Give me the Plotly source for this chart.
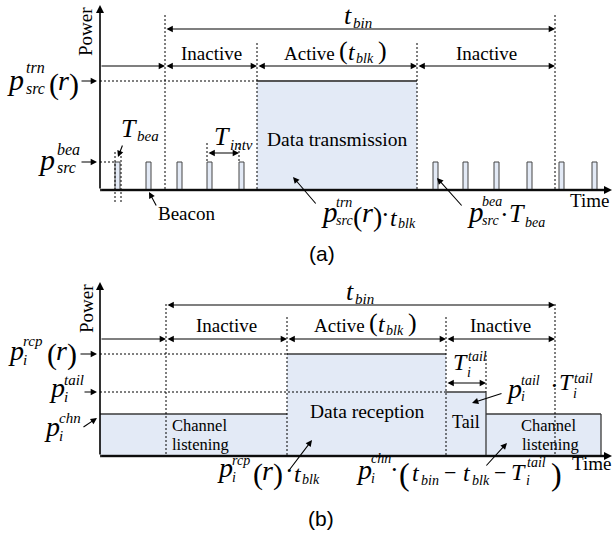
import plotly.graph_objects as go

SERIF = "Liberation Serif"
SANS = "Liberation Sans"
FILL = "#E3EAF6"
EDGE = "#3a3a3a"

# ---------------- Panel (a): source node (beacons + data transmission) ----------------
a_origin = 100                       # time origin of panel (a)
a_zero = 190                         # zero-power level
a_top = 5                            # top of power axis
a_edges = [165, 257, 417, 555]       # t_bin start, active start, active end, t_bin end
a_phases = ["Inactive", "Active", "Inactive"]
a_p_trn = 81                         # p_src^trn(r) level
a_p_bea = 162                        # p_src^bea level
a_beacons = [115, 146, 177, 207, 239, 433, 463, 494, 527, 559, 592]   # beacon start times
a_beacon_len = 5                     # T_bea
a_tbin_y = 29
a_phase_y = 66

# ---------------- Panel (b): receiving node ----------------
b_origin = 100
b_zero = 456
b_top = 282
b_edges = [166, 287, 446, 555]       # t_bin start, active start, active end, t_bin end
b_phases = ["Inactive", "Active", "Inactive"]
b_tail_end = 486                     # end of tail period
b_listen_end = 601                   # end of channel listening block
b_p_rcp = 354                        # p_i^rcp(r)
b_p_tail = 392                       # p_i^tail
b_p_chn = 414                        # p_i^chn
b_tbin_y = 305
b_phase_y = 339

fig = go.Figure()
anns = []


def poly(xs, ys, color="black", width=1.0, dash="solid", fill=None):
    fig.add_trace(go.Scatter(
        x=xs, y=ys, mode="lines", hoverinfo="skip", showlegend=False,
        line=dict(color=color, width=width, dash=dash),
        fill="toself" if fill else None, fillcolor=fill))


def block(x0, x1, y0, y1, edge=None, ew=1.0):
    poly([x0, x1, x1, x0, x0], [y0, y0, y1, y1, y0],
         color=edge if edge else "rgba(0,0,0,0)", width=ew if edge else 0, fill=FILL)


def dotted(x0, y0, x1, y1):
    poly([x0, x1], [y0, y1], color="black", width=1, dash="2px,2px")


def solid(x0, y0, x1, y1, color=EDGE, width=1.3):
    poly([x0, x1], [y0, y1], color=color, width=width)


def arrow(x0, y0, x1, y1, both=False, width=1.1, size=1.15):
    anns.append(dict(x=x1, y=y1, ax=x0, ay=y0, xref="x", yref="y", axref="x", ayref="y",
                     text="", showarrow=True, arrowhead=2, startarrowhead=2,
                     arrowside="end+start" if both else "end",
                     arrowsize=size, startarrowsize=size, arrowwidth=width,
                     arrowcolor="black", standoff=0, startstandoff=0))


def text(x, yb, s, size=19, anchor="left", family=SERIF, italic=False, angle=0, yc=None):
    if italic:
        s = "<i>" + s + "</i>"
    y = yc if yc is not None else yb - 0.34 * size
    anns.append(dict(x=x, y=y, xref="x", yref="y", text=s, showarrow=False,
                     font=dict(family=family, size=size, color="black"),
                     xanchor=anchor, yanchor="middle", textangle=angle, borderpad=0))


def stacked(x, yb, base, sup=None, sub=None, bs=28, ss=14, bw=15, sup_dy=-15, sub_dy=4):
    text(x, yb, base, bs, italic=True)
    if sup:
        text(x + bw, yb + sup_dy, sup, ss, italic=True)
    if sub:
        text(x + bw, yb + sub_dy, sub, ss, italic=True)


def paren_r(x, yb, ps=28, rs=28):
    text(x, yb + 4, "(", ps)
    text(x + 9, yb, "r", rs, italic=True)
    text(x + 20, yb + 4, ")", ps)


def active_label(c, yb):
    text(c - 54, yb, "Active", 19)
    text(c + 1, yb - 1, "(", 26)
    text(c + 10, yb, "t", 24, italic=True)
    text(c + 18, yb + 3, "blk", 14, italic=True)
    text(c + 40, yb - 1, ")", 26)


# ======================= PANEL (a) =======================
block(a_edges[1], a_edges[2], a_p_trn, a_zero)
solid(a_edges[1], a_p_trn, a_edges[2], a_p_trn, color="#555555", width=2)
for b in a_beacons:
    block(b, b + a_beacon_len, a_p_bea, a_zero, edge="#444444", ew=1)
dotted(a_edges[0], 15, a_edges[0], a_zero)
dotted(a_edges[1], 43, a_edges[1], a_zero)
dotted(a_edges[2], 43, a_edges[2], a_zero)
dotted(a_edges[3], 15, a_edges[3], a_zero)
dotted(a_origin, a_p_trn, a_edges[1], a_p_trn)
dotted(a_origin, a_p_bea, a_beacons[0], a_p_bea)
dotted(a_beacons[0], 152, a_beacons[0], 204)
dotted(a_beacons[0] + a_beacon_len + 1, 152, a_beacons[0] + a_beacon_len + 1, 204)
dotted(a_beacons[3], 143, a_beacons[3], a_p_bea)
dotted(a_beacons[4], 143, a_beacons[4], a_p_bea)
solid(a_origin, a_zero, 604, a_zero, color="#333333", width=2.4)
arrow(a_origin, a_zero, 612, a_zero, width=1.6, size=1.0)
arrow(a_origin, a_zero, a_origin, a_top, width=1.6, size=1.0)
arrow(a_edges[0], a_tbin_y, a_edges[3], a_tbin_y, both=True)
arrow(a_origin, a_phase_y, a_edges[0], a_phase_y)
for i in range(3):
    arrow(a_edges[i], a_phase_y, a_edges[i + 1], a_phase_y, both=True)
arrow(a_beacons[3], 153, a_beacons[4], 153, both=True)
arrow(80, a_p_trn, 97, a_p_trn)
arrow(80, a_p_bea, 97, a_p_bea)
arrow(123, 144, 118, 157)
arrow(157, 207, 149, 192)
arrow(317, 205, 293, 177)
arrow(463, 207, 437, 178)

text(85, 0, "Power", 19, anchor="center", angle=-90, yc=32)
text(343, 24, "t", 26, italic=True)
text(352, 28, "bin", 15, italic=True)
text((a_edges[0] + a_edges[1]) / 2, 60, a_phases[0], 19, anchor="center")
active_label((a_edges[1] + a_edges[2]) / 2, 60)
text((a_edges[2] + a_edges[3]) / 2, 60, a_phases[2], 19, anchor="center")
text((a_edges[1] + a_edges[2]) / 2, 146, "Data transmission", 19.5, anchor="center")
text(157, 220, "Beacon", 19)
stacked(6, 90, "p", "trn", "src", bs=30, ss=16, bw=19, sup_dy=-17, sub_dy=4)
paren_r(48, 90, ps=30, rs=28)
stacked(37, 170, "p", "bea", "src", bs=30, ss=16, bw=19, sup_dy=-15, sub_dy=3)
text(120, 137, "T", 26, italic=True)
text(136, 141, "bea", 15, italic=True)
text(213, 145, "T", 26, italic=True)
text(229, 150, "intv", 15, italic=True)
stacked(320, 222, "p", "trn", "src", bs=29, ss=14, bw=15, sup_dy=-15, sub_dy=3)
paren_r(352, 222, ps=28, rs=28)
text(385, 223, "·", 26, anchor="center")
text(389, 226, "t", 24, italic=True)
text(397, 228, "blk", 14, italic=True)
stacked(466, 222, "p", "bea", "src", bs=29, ss=14, bw=15, sup_dy=-16, sub_dy=3)
text(504, 223, "·", 26, anchor="center")
text(508, 222, "T", 26, italic=True)
text(524, 227, "bea", 14, italic=True)
text(569, 207, "Time", 19)
text(322, 0, "(a)", 21, anchor="center", family=SANS, yc=253)

# ======================= PANEL (b) =======================
block(b_origin, b_edges[1], b_p_chn, b_zero)
block(b_edges[1], b_edges[2], b_p_rcp, b_zero)
block(b_edges[2], b_tail_end, b_p_tail, b_zero)
block(b_tail_end, b_listen_end, b_p_chn, b_zero)
solid(b_origin, b_p_chn, b_edges[1], b_p_chn)
solid(b_edges[1], b_p_rcp, b_edges[2], b_p_rcp)
solid(b_edges[2], b_p_tail, b_tail_end, b_p_tail)
solid(b_tail_end, b_p_chn, b_listen_end, b_p_chn)
solid(b_tail_end, b_p_tail, b_tail_end, b_zero)
solid(b_listen_end, b_p_chn, b_listen_end, b_zero)
dotted(b_edges[0], 304, b_edges[0], b_zero)
dotted(b_edges[1], 317, b_edges[1], b_zero)
dotted(b_edges[2], 317, b_edges[2], b_zero)
dotted(b_edges[3], 304, b_edges[3], b_zero)
dotted(b_tail_end, 355, b_tail_end, b_p_tail)
dotted(b_origin, b_p_rcp, b_edges[1], b_p_rcp)
dotted(b_origin, b_p_tail, b_edges[2], b_p_tail)
solid(b_origin, b_zero, 604, b_zero, color="#333333", width=2.4)
arrow(b_origin, b_zero, 612, b_zero, width=1.6, size=1.0)
arrow(b_origin, b_zero, b_origin, b_top, width=1.6, size=1.0)
arrow(b_edges[0], b_tbin_y, b_edges[3], b_tbin_y, both=True)
arrow(b_origin, b_phase_y, b_edges[0], b_phase_y)
for i in range(3):
    arrow(b_edges[i], b_phase_y, b_edges[i + 1], b_phase_y, both=True)
arrow(b_edges[2], 383, b_tail_end, 383, both=True)
arrow(79, b_p_rcp, 97, b_p_rcp)
arrow(83, b_p_tail, 97, b_p_tail)
arrow(82, 428, 97, 418)
arrow(503, 393, 472, 403)
arrow(287, 473, 312, 440)
arrow(485, 467, 507, 443)

text(86, 0, "Power", 19, anchor="center", angle=-90, yc=309)
text(345, 300, "t", 26, italic=True)
text(354, 304, "bin", 15, italic=True)
text((b_edges[0] + b_edges[1]) / 2, 332, b_phases[0], 19, anchor="center")
active_label((b_edges[1] + b_edges[2]) / 2, 332)
text((b_edges[2] + b_edges[3]) / 2, 332, b_phases[2], 19, anchor="center")
stacked(7, 360, "p", "rcp", "i", bs=28, ss=15, bw=15, sup_dy=-14, sub_dy=5)
paren_r(46, 360, ps=30, rs=28)
stacked(48, 397, "p", "tail", "i", bs=28, ss=15, bw=15, sup_dy=-12, sub_dy=5)
stacked(43, 436, "p", "chn", "i", bs=28, ss=15, bw=15, sup_dy=-13, sub_dy=5)
text(452, 370, "T", 24, italic=True)
text(467, 361, "tail", 14, italic=True)
text(466, 377, "i", 14, italic=True)
stacked(505, 398, "p", "tail", "i", bs=28, ss=14, bw=15, sup_dy=-13, sub_dy=3)
text(554, 394, "·", 26, anchor="center")
text(558, 390, "T", 24, italic=True)
text(573, 383, "tail", 14, italic=True)
text(572, 398, "i", 14, italic=True)
text((b_edges[1] + b_edges[2]) / 2, 418, "Data reception", 19.5, anchor="center")
text((b_edges[2] + b_tail_end) / 2, 428, "Tail", 18, anchor="center")
text(171, 431, "Channel", 16.5)
text(171, 450, "listening", 16.5)
text(520, 431, "Channel", 16.5)
text(521, 450, "listening", 16.5)
stacked(216, 477, "p", "rcp", "i", bs=28, ss=14, bw=15, sup_dy=-12, sub_dy=5)
paren_r(252, 480, ps=30, rs=28)
text(289, 479, "·", 26, anchor="center")
text(293, 482, "t", 24, italic=True)
text(301, 484, "blk", 14, italic=True)
stacked(355, 479, "p", "chn", "i", bs=28, ss=14, bw=15, sup_dy=-16, sub_dy=4)
text(394, 478, "·", 26, anchor="center")
text(398, 485, "(", 32)
text(411, 481, "t", 24, italic=True)
text(420, 485, "bin", 14, italic=True)
text(450, 480, "−", 22, anchor="center")
text(462, 481, "t", 24, italic=True)
text(471, 485, "blk", 14, italic=True)
text(500, 480, "−", 22, anchor="center")
text(510, 480, "T", 24, italic=True)
text(526, 467, "tail", 14, italic=True)
text(525, 485, "i", 14, italic=True)
text(550, 485, ")", 32)
text(571, 470, "Time", 19)
text(321, 0, "(b)", 21, anchor="center", family=SANS, yc=518)

fig.update_layout(
    width=614, height=539, margin=dict(l=0, r=0, t=0, b=0),
    paper_bgcolor="white", plot_bgcolor="white", showlegend=False,
    xaxis=dict(range=[0, 614], visible=False, fixedrange=True),
    yaxis=dict(range=[539, 0], visible=False, fixedrange=True),
    annotations=anns, hovermode=False,
)
fig.write_html("out.html", config={"displayModeBar": False})
